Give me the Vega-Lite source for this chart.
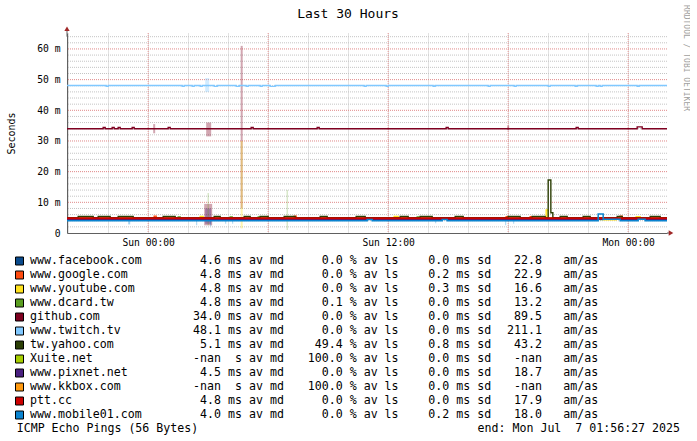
{
 "$schema": "https://vega.github.io/schema/vega-lite/v6.json",
 "background": "white",
 "padding": {"left": 6, "top": 5, "right": 0, "bottom": 0},
 "config": {"font": "DejaVu Sans Mono", "view": {"stroke": null},
   "axisY": {"labelOverlap": false, "labelFont": "DejaVu Sans Mono", "labelFontSize": 9.7, "labelColor": "black", "labelPadding": 7, "ticks": false, "grid": false, "domainColor": "#606060",
     "titleFont": "DejaVu Sans Mono", "titleFontSize": 10, "titleFontWeight": "normal", "titleColor": "black", "titlePadding": 20}},
 "spacing": 7,
 "datasets": {
  "lines": [
   {"s":"www.facebook.com","t":"2025-07-05T19:56:27Z","v":4.6},
   {"s":"www.facebook.com","t":"2025-07-07T01:56:27Z","v":4.6},
   {"s":"www.google.com","t":"2025-07-05T19:56:27Z","v":4.8},
   {"s":"www.google.com","t":"2025-07-06T00:18:00Z","v":5.5},
   {"s":"www.google.com","t":"2025-07-06T00:24:00Z","v":4.8},
   {"s":"www.google.com","t":"2025-07-06T07:18:00Z","v":5.5},
   {"s":"www.google.com","t":"2025-07-06T07:24:00Z","v":4.8},
   {"s":"www.google.com","t":"2025-07-06T17:54:00Z","v":5.3},
   {"s":"www.google.com","t":"2025-07-06T18:00:00Z","v":4.8},
   {"s":"www.google.com","t":"2025-07-06T19:06:00Z","v":5.3},
   {"s":"www.google.com","t":"2025-07-06T19:18:00Z","v":4.8},
   {"s":"www.google.com","t":"2025-07-06T23:36:00Z","v":5.5},
   {"s":"www.google.com","t":"2025-07-06T23:42:00Z","v":4.8},
   {"s":"www.google.com","t":"2025-07-07T01:56:27Z","v":4.8},
   {"s":"www.youtube.com","t":"2025-07-05T19:56:27Z","v":4.8},
   {"s":"www.youtube.com","t":"2025-07-05T21:12:00Z","v":4.2},
   {"s":"www.youtube.com","t":"2025-07-05T21:21:00Z","v":4.8},
   {"s":"www.youtube.com","t":"2025-07-06T02:36:00Z","v":5.4},
   {"s":"www.youtube.com","t":"2025-07-06T02:45:00Z","v":4.8},
   {"s":"www.youtube.com","t":"2025-07-06T12:18:00Z","v":5.4},
   {"s":"www.youtube.com","t":"2025-07-06T12:30:00Z","v":4.8},
   {"s":"www.youtube.com","t":"2025-07-06T19:54:00Z","v":7.5},
   {"s":"www.youtube.com","t":"2025-07-06T20:00:00Z","v":4.8},
   {"s":"www.youtube.com","t":"2025-07-06T22:48:00Z","v":4.3},
   {"s":"www.youtube.com","t":"2025-07-06T23:24:00Z","v":4.8},
   {"s":"www.youtube.com","t":"2025-07-07T00:24:00Z","v":5.3},
   {"s":"www.youtube.com","t":"2025-07-07T00:36:00Z","v":4.8},
   {"s":"www.youtube.com","t":"2025-07-07T01:56:27Z","v":4.8},
   {"s":"www.dcard.tw","t":"2025-07-05T19:56:27Z","v":4.8},
   {"s":"www.dcard.tw","t":"2025-07-06T01:30:00Z","v":5.2},
   {"s":"www.dcard.tw","t":"2025-07-06T01:36:00Z","v":4.8},
   {"s":"www.dcard.tw","t":"2025-07-06T04:06:00Z","v":5.2},
   {"s":"www.dcard.tw","t":"2025-07-06T04:12:00Z","v":4.8},
   {"s":"www.dcard.tw","t":"2025-07-06T05:30:00Z","v":5.2},
   {"s":"www.dcard.tw","t":"2025-07-06T05:36:00Z","v":4.8},
   {"s":"www.dcard.tw","t":"2025-07-06T13:27:00Z","v":5.2},
   {"s":"www.dcard.tw","t":"2025-07-06T13:33:00Z","v":4.8},
   {"s":"www.dcard.tw","t":"2025-07-06T22:36:00Z","v":4.4},
   {"s":"www.dcard.tw","t":"2025-07-06T22:45:00Z","v":4.8},
   {"s":"www.dcard.tw","t":"2025-07-07T01:56:27Z","v":4.8},
   {"s":"github.com","t":"2025-07-05T19:56:27Z","v":34.0},
   {"s":"github.com","t":"2025-07-05T21:45:00Z","v":34.4},
   {"s":"github.com","t":"2025-07-05T21:51:00Z","v":34.0},
   {"s":"github.com","t":"2025-07-05T22:12:00Z","v":34.4},
   {"s":"github.com","t":"2025-07-05T22:18:00Z","v":34.0},
   {"s":"github.com","t":"2025-07-05T22:30:00Z","v":34.4},
   {"s":"github.com","t":"2025-07-05T22:36:00Z","v":34.0},
   {"s":"github.com","t":"2025-07-05T23:12:00Z","v":34.4},
   {"s":"github.com","t":"2025-07-05T23:18:00Z","v":34.0},
   {"s":"github.com","t":"2025-07-06T01:00:00Z","v":34.4},
   {"s":"github.com","t":"2025-07-06T01:06:00Z","v":34.0},
   {"s":"github.com","t":"2025-07-06T05:09:00Z","v":34.4},
   {"s":"github.com","t":"2025-07-06T05:15:00Z","v":34.0},
   {"s":"github.com","t":"2025-07-06T08:27:00Z","v":34.4},
   {"s":"github.com","t":"2025-07-06T08:33:00Z","v":34.0},
   {"s":"github.com","t":"2025-07-06T14:54:00Z","v":34.4},
   {"s":"github.com","t":"2025-07-06T15:00:00Z","v":34.0},
   {"s":"github.com","t":"2025-07-06T21:24:00Z","v":34.4},
   {"s":"github.com","t":"2025-07-06T21:30:00Z","v":34.0},
   {"s":"github.com","t":"2025-07-07T00:27:00Z","v":34.6},
   {"s":"github.com","t":"2025-07-07T00:42:00Z","v":34.0},
   {"s":"github.com","t":"2025-07-07T01:56:27Z","v":34.0},
   {"s":"www.twitch.tv","t":"2025-07-05T19:56:27Z","v":48.1},
   {"s":"www.twitch.tv","t":"2025-07-05T21:54:00Z","v":47.8},
   {"s":"www.twitch.tv","t":"2025-07-05T22:00:00Z","v":48.1},
   {"s":"www.twitch.tv","t":"2025-07-06T01:42:00Z","v":47.8},
   {"s":"www.twitch.tv","t":"2025-07-06T01:48:00Z","v":48.1},
   {"s":"www.twitch.tv","t":"2025-07-06T02:12:00Z","v":47.8},
   {"s":"www.twitch.tv","t":"2025-07-06T02:18:00Z","v":48.1},
   {"s":"www.twitch.tv","t":"2025-07-06T02:36:00Z","v":47.8},
   {"s":"www.twitch.tv","t":"2025-07-06T02:42:00Z","v":48.1},
   {"s":"www.twitch.tv","t":"2025-07-06T03:18:00Z","v":47.8},
   {"s":"www.twitch.tv","t":"2025-07-06T03:27:00Z","v":48.1},
   {"s":"www.twitch.tv","t":"2025-07-06T04:24:00Z","v":47.8},
   {"s":"www.twitch.tv","t":"2025-07-06T04:33:00Z","v":48.1},
   {"s":"www.twitch.tv","t":"2025-07-06T04:54:00Z","v":47.8},
   {"s":"www.twitch.tv","t":"2025-07-06T05:00:00Z","v":48.1},
   {"s":"www.twitch.tv","t":"2025-07-06T05:36:00Z","v":47.8},
   {"s":"www.twitch.tv","t":"2025-07-06T05:42:00Z","v":48.1},
   {"s":"www.twitch.tv","t":"2025-07-06T06:06:00Z","v":47.8},
   {"s":"www.twitch.tv","t":"2025-07-06T06:21:00Z","v":48.1},
   {"s":"www.twitch.tv","t":"2025-07-06T10:48:00Z","v":47.8},
   {"s":"www.twitch.tv","t":"2025-07-06T10:54:00Z","v":48.1},
   {"s":"www.twitch.tv","t":"2025-07-06T11:54:00Z","v":47.8},
   {"s":"www.twitch.tv","t":"2025-07-06T12:00:00Z","v":48.1},
   {"s":"www.twitch.tv","t":"2025-07-06T14:15:00Z","v":47.8},
   {"s":"www.twitch.tv","t":"2025-07-06T14:21:00Z","v":48.1},
   {"s":"www.twitch.tv","t":"2025-07-06T17:00:00Z","v":47.8},
   {"s":"www.twitch.tv","t":"2025-07-06T17:06:00Z","v":48.1},
   {"s":"www.twitch.tv","t":"2025-07-06T18:18:00Z","v":47.8},
   {"s":"www.twitch.tv","t":"2025-07-06T18:24:00Z","v":48.1},
   {"s":"www.twitch.tv","t":"2025-07-06T20:00:00Z","v":47.8},
   {"s":"www.twitch.tv","t":"2025-07-06T20:06:00Z","v":48.1},
   {"s":"www.twitch.tv","t":"2025-07-06T21:21:00Z","v":47.8},
   {"s":"www.twitch.tv","t":"2025-07-06T21:27:00Z","v":48.1},
   {"s":"www.twitch.tv","t":"2025-07-06T22:24:00Z","v":47.8},
   {"s":"www.twitch.tv","t":"2025-07-06T22:30:00Z","v":48.1},
   {"s":"www.twitch.tv","t":"2025-07-06T22:36:00Z","v":47.8},
   {"s":"www.twitch.tv","t":"2025-07-06T22:42:00Z","v":48.1},
   {"s":"www.twitch.tv","t":"2025-07-07T00:27:00Z","v":47.8},
   {"s":"www.twitch.tv","t":"2025-07-07T00:33:00Z","v":48.1},
   {"s":"www.twitch.tv","t":"2025-07-07T01:56:27Z","v":48.1},
   {"s":"tw.yahoo.com","t":"2025-07-05T19:56:27Z","v":5.0},
   {"s":"tw.yahoo.com","t":"2025-07-05T20:30:00Z","v":5.4},
   {"s":"tw.yahoo.com","t":"2025-07-05T21:15:00Z","v":5.0},
   {"s":"tw.yahoo.com","t":"2025-07-05T21:30:00Z","v":5.4},
   {"s":"tw.yahoo.com","t":"2025-07-05T22:06:00Z","v":5.0},
   {"s":"tw.yahoo.com","t":"2025-07-05T22:30:00Z","v":5.4},
   {"s":"tw.yahoo.com","t":"2025-07-05T23:15:00Z","v":5.0},
   {"s":"tw.yahoo.com","t":"2025-07-06T00:45:00Z","v":5.4},
   {"s":"tw.yahoo.com","t":"2025-07-06T01:21:00Z","v":5.0},
   {"s":"tw.yahoo.com","t":"2025-07-06T03:18:00Z","v":5.4},
   {"s":"tw.yahoo.com","t":"2025-07-06T03:36:00Z","v":5.0},
   {"s":"tw.yahoo.com","t":"2025-07-06T04:48:00Z","v":5.4},
   {"s":"tw.yahoo.com","t":"2025-07-06T05:06:00Z","v":5.0},
   {"s":"tw.yahoo.com","t":"2025-07-06T05:36:00Z","v":5.4},
   {"s":"tw.yahoo.com","t":"2025-07-06T06:00:00Z","v":5.0},
   {"s":"tw.yahoo.com","t":"2025-07-06T06:48:00Z","v":5.4},
   {"s":"tw.yahoo.com","t":"2025-07-06T07:21:00Z","v":5.0},
   {"s":"tw.yahoo.com","t":"2025-07-06T08:36:00Z","v":5.4},
   {"s":"tw.yahoo.com","t":"2025-07-06T08:57:00Z","v":5.0},
   {"s":"tw.yahoo.com","t":"2025-07-06T10:24:00Z","v":5.4},
   {"s":"tw.yahoo.com","t":"2025-07-06T10:51:00Z","v":5.0},
   {"s":"tw.yahoo.com","t":"2025-07-06T12:36:00Z","v":5.4},
   {"s":"tw.yahoo.com","t":"2025-07-06T13:00:00Z","v":5.0},
   {"s":"tw.yahoo.com","t":"2025-07-06T13:36:00Z","v":5.4},
   {"s":"tw.yahoo.com","t":"2025-07-06T14:12:00Z","v":5.0},
   {"s":"tw.yahoo.com","t":"2025-07-06T15:21:00Z","v":5.4},
   {"s":"tw.yahoo.com","t":"2025-07-06T15:45:00Z","v":5.0},
   {"s":"tw.yahoo.com","t":"2025-07-06T18:00:00Z","v":5.4},
   {"s":"tw.yahoo.com","t":"2025-07-06T18:36:00Z","v":5.0},
   {"s":"tw.yahoo.com","t":"2025-07-06T19:12:00Z","v":5.4},
   {"s":"tw.yahoo.com","t":"2025-07-06T19:51:00Z","v":5.0},
   {"s":"tw.yahoo.com","t":"2025-07-06T20:00:00Z","v":17.3},
   {"s":"tw.yahoo.com","t":"2025-07-06T20:08:00Z","v":6.6},
   {"s":"tw.yahoo.com","t":"2025-07-06T20:14:00Z","v":5.0},
   {"s":"tw.yahoo.com","t":"2025-07-06T20:36:00Z","v":5.4},
   {"s":"tw.yahoo.com","t":"2025-07-06T20:57:00Z","v":5.0},
   {"s":"tw.yahoo.com","t":"2025-07-06T21:45:00Z","v":5.4},
   {"s":"tw.yahoo.com","t":"2025-07-06T22:06:00Z","v":5.0},
   {"s":"tw.yahoo.com","t":"2025-07-06T23:27:00Z","v":5.4},
   {"s":"tw.yahoo.com","t":"2025-07-06T23:42:00Z","v":5.0},
   {"s":"tw.yahoo.com","t":"2025-07-07T01:06:00Z","v":5.4},
   {"s":"tw.yahoo.com","t":"2025-07-07T01:36:00Z","v":5.0},
   {"s":"tw.yahoo.com","t":"2025-07-07T01:56:27Z","v":5.0},
   {"s":"www.pixnet.net","t":"2025-07-05T19:56:27Z","v":4.5},
   {"s":"www.pixnet.net","t":"2025-07-07T01:56:27Z","v":4.5},
   {"s":"ptt.cc","t":"2025-07-05T19:56:27Z","v":4.8},
   {"s":"ptt.cc","t":"2025-07-07T01:56:27Z","v":4.8},
   {"s":"www.mobile01.com","t":"2025-07-05T19:56:27Z","v":4.0},
   {"s":"www.mobile01.com","t":"2025-07-06T10:57:00Z","v":4.4},
   {"s":"www.mobile01.com","t":"2025-07-06T11:12:00Z","v":4.0},
   {"s":"www.mobile01.com","t":"2025-07-06T14:42:00Z","v":4.4},
   {"s":"www.mobile01.com","t":"2025-07-06T14:57:00Z","v":4.0},
   {"s":"www.mobile01.com","t":"2025-07-06T22:30:00Z","v":6.2},
   {"s":"www.mobile01.com","t":"2025-07-06T22:45:00Z","v":4.5},
   {"s":"www.mobile01.com","t":"2025-07-06T23:36:00Z","v":4.0},
   {"s":"www.mobile01.com","t":"2025-07-07T00:30:00Z","v":4.5},
   {"s":"www.mobile01.com","t":"2025-07-07T00:51:00Z","v":4.0},
   {"s":"www.mobile01.com","t":"2025-07-07T01:56:27Z","v":4.0}
  ],
  "smoke": [
   {"s":"github.com","t1":"2025-07-06T04:37:30Z","t2":"2025-07-06T04:43:30Z","lo":8,"hi":61},
   {"s":"www.youtube.com","t1":"2025-07-06T04:37:30Z","t2":"2025-07-06T04:43:30Z","lo":1.5,"hi":30},
   {"s":"github.com","t1":"2025-07-06T02:48:00Z","t2":"2025-07-06T03:12:00Z","lo":2.5,"hi":9.5},
   {"s":"www.pixnet.net","t1":"2025-07-06T02:51:00Z","t2":"2025-07-06T03:09:00Z","lo":3,"hi":8},
   {"s":"github.com","t1":"2025-07-06T02:54:00Z","t2":"2025-07-06T03:09:00Z","lo":31.5,"hi":36},
   {"s":"github.com","t1":"2025-07-06T00:15:00Z","t2":"2025-07-06T00:21:00Z","lo":32.5,"hi":35.5},
   {"s":"github.com","t1":"2025-07-06T17:57:00Z","t2":"2025-07-06T18:03:00Z","lo":33.5,"hi":35},
   {"s":"www.twitch.tv","t1":"2025-07-06T02:51:00Z","t2":"2025-07-06T03:03:00Z","lo":46,"hi":50.5},
   {"s":"www.dcard.tw","t1":"2025-07-06T02:58:30Z","t2":"2025-07-06T03:01:30Z","lo":2.5,"hi":13},
   {"s":"www.dcard.tw","t1":"2025-07-06T06:55:30Z","t2":"2025-07-06T06:58:30Z","lo":1,"hi":14},
   {"s":"www.mobile01.com","t1":"2025-07-05T23:00:00Z","t2":"2025-07-05T23:06:00Z","lo":2.8,"hi":4.5},
   {"s":"www.mobile01.com","t1":"2025-07-06T02:24:00Z","t2":"2025-07-06T02:27:00Z","lo":2.5,"hi":4.2},
   {"s":"www.mobile01.com","t1":"2025-07-06T03:06:00Z","t2":"2025-07-06T03:09:00Z","lo":2.2,"hi":4},
   {"s":"www.mobile01.com","t1":"2025-07-06T03:51:00Z","t2":"2025-07-06T03:54:00Z","lo":3,"hi":4.5},
   {"s":"www.mobile01.com","t1":"2025-07-06T04:12:00Z","t2":"2025-07-06T04:15:00Z","lo":3,"hi":4.5},
   {"s":"www.mobile01.com","t1":"2025-07-06T14:21:00Z","t2":"2025-07-06T14:24:00Z","lo":3.2,"hi":4},
   {"s":"www.mobile01.com","t1":"2025-07-06T17:51:00Z","t2":"2025-07-06T17:54:00Z","lo":2.5,"hi":4.1},
   {"s":"www.mobile01.com","t1":"2025-07-06T18:15:00Z","t2":"2025-07-06T18:18:00Z","lo":3,"hi":4.1}
  ],
  "vgrid": [
   {"t": 1751760000000}, {"t": 1751781600000}, {"t": 1751803200000}, {"t": 1751824800000}, {"t": 1751846400000}
  ],
  "hgrid": [
   {"v": 10}, {"v": 20}, {"v": 30}, {"v": 40}, {"v": 50}, {"v": 60}
  ],
  "hminor": [
   {"v": 2}, {"v": 4}, {"v": 6}, {"v": 8}, {"v": 12}, {"v": 14}, {"v": 16}, {"v": 18},
   {"v": 22}, {"v": 24}, {"v": 26}, {"v": 28}, {"v": 32}, {"v": 34}, {"v": 36}, {"v": 38},
   {"v": 42}, {"v": 44}, {"v": 46}, {"v": 48}, {"v": 52}, {"v": 54}, {"v": 56}, {"v": 58},
   {"v": 62}, {"v": 64}
  ],
  "legend": [
   {"r":0,"name":"www.facebook.com","avg":"4.6","unit":"ms","loss":"0.0","sd":"0.0","amas":"22.8"},
   {"r":1,"name":"www.google.com","avg":"4.8","unit":"ms","loss":"0.0","sd":"0.2","amas":"22.9"},
   {"r":2,"name":"www.youtube.com","avg":"4.8","unit":"ms","loss":"0.0","sd":"0.3","amas":"16.6"},
   {"r":3,"name":"www.dcard.tw","avg":"4.8","unit":"ms","loss":"0.1","sd":"0.0","amas":"13.2"},
   {"r":4,"name":"github.com","avg":"34.0","unit":"ms","loss":"0.0","sd":"0.0","amas":"89.5"},
   {"r":5,"name":"www.twitch.tv","avg":"48.1","unit":"ms","loss":"0.0","sd":"0.0","amas":"211.1"},
   {"r":6,"name":"tw.yahoo.com","avg":"5.1","unit":"ms","loss":"49.4","sd":"0.8","amas":"43.2"},
   {"r":7,"name":"Xuite.net","avg":"-nan","unit":"s","loss":"100.0","sd":"0.0","amas":"-nan"},
   {"r":8,"name":"www.pixnet.net","avg":"4.5","unit":"ms","loss":"0.0","sd":"0.0","amas":"18.7"},
   {"r":9,"name":"www.kkbox.com","avg":"-nan","unit":"s","loss":"100.0","sd":"0.0","amas":"-nan"},
   {"r":10,"name":"ptt.cc","avg":"4.8","unit":"ms","loss":"0.0","sd":"0.0","amas":"17.9"},
   {"r":11,"name":"www.mobile01.com","avg":"4.0","unit":"ms","loss":"0.0","sd":"0.2","amas":"18.0"}
  ],
  "foot": [
   {"r":12,"left":"ICMP Echo Pings (56 Bytes)","right":"end: Mon Jul \u00a07 01:56:27 2025"}
  ]
 },
 "vconcat": [
  {
   "width": 600,
   "height": 200,
   "layer": [
    {
     "data": {"name": "hminor"},
     "mark": {"type": "rule", "color": "#c4c4c4", "strokeDash": [1, 1]},
     "encoding": {
      "y": {"field": "v", "type": "quantitative", "scale": {"domain": [0, 65.2], "nice": false, "zero": false},
        "axis": {"title": "Seconds", "values": [0,10,20,30,40,50,60], "labelOverlap": false, "labelExpr": "datum.value === 0 ? '0' : datum.value + ' m'"}}
     }
    },
    {
     "data": {"name": "vgrid"},
     "mark": {"type": "rule", "color": "#e89898", "strokeDash": [1, 1]},
     "encoding": {
      "x": {"field": "t", "type": "temporal", "scale": {"type": "utc", "domain": [1751745387000, 1751853387000], "nice": false},
        "axis": {"title": null,
          "values": [1751745600000,1751749200000,1751752800000,1751756400000,1751760000000,1751763600000,1751767200000,1751770800000,1751774400000,1751778000000,1751781600000,1751785200000,1751788800000,1751792400000,1751796000000,1751799600000,1751803200000,1751806800000,1751810400000,1751814000000,1751817600000,1751821200000,1751824800000,1751828400000,1751832000000,1751835600000,1751839200000,1751842800000,1751846400000,1751850000000],
          "grid": true, "gridColor": "#c4c4c4", "gridDash": [1, 1], "ticks": false,
          "labelExpr": "utchours(datum.value) % 12 === 0 ? utcFormat(datum.value, '%a %H:%M') : ''",
          "labelOverlap": false, "labelFlush": false, "labelFont": "DejaVu Sans Mono", "labelFontSize": 9.7, "labelColor": "black", "labelPadding": 4,
          "domainColor": "#606060"}}
     }
    },
    {
     "data": {"name": "hgrid"},
     "mark": {"type": "rule", "color": "#e08888", "strokeDash": [1, 1]},
     "encoding": {
      "y": {"field": "v", "type": "quantitative", "scale": {"domain": [0, 65.2], "nice": false, "zero": false},
        "axis": {"title": "Seconds", "values": [0,10,20,30,40,50,60], "labelOverlap": false, "labelExpr": "datum.value === 0 ? '0' : datum.value + ' m'"}}
     }
    },
    {
     "data": {"name": "smoke"},
     "mark": {"type": "rect", "opacity": 0.35},
     "encoding": {
      "x": {"field": "t1", "type": "temporal", "scale": {"type": "utc", "domain": [1751745387000, 1751853387000], "nice": false}},
      "x2": {"field": "t2"},
      "y": {"field": "lo", "type": "quantitative", "scale": {"domain": [0, 65.2], "nice": false, "zero": false},
        "axis": {"title": "Seconds", "values": [0,10,20,30,40,50,60], "labelOverlap": false, "labelExpr": "datum.value === 0 ? '0' : datum.value + ' m'"}},
      "y2": {"field": "hi"},
      "color": {"field": "s", "type": "nominal", "legend": null,
        "scale": {"domain": ["www.facebook.com","www.google.com","www.youtube.com","www.dcard.tw","github.com","www.twitch.tv","tw.yahoo.com","Xuite.net","www.pixnet.net","www.kkbox.com","ptt.cc","www.mobile01.com"],
                  "range": ["#0a4a8c","#ff4c10","#ffe21e","#5a9e20","#7e0020","#80c8ff","#2c3f05","#a6ce00","#4a2080","#ff9a10","#cc0000","#0a84d0"]}}
     }
    },
    {
     "data": {"name": "lines"},
     "transform": [{"filter": "datum.s !== 'ptt.cc' && datum.s !== 'www.mobile01.com'"}],
     "mark": {"type": "line", "interpolate": "step-after", "strokeWidth": 1.4},
     "encoding": {
      "x": {"field": "t", "type": "temporal", "scale": {"type": "utc", "domain": [1751745387000, 1751853387000], "nice": false}},
      "y": {"field": "v", "type": "quantitative", "scale": {"domain": [0, 65.2], "nice": false, "zero": false},
        "axis": {"title": "Seconds", "values": [0,10,20,30,40,50,60], "labelOverlap": false, "labelExpr": "datum.value === 0 ? '0' : datum.value + ' m'"}},
      "color": {"field": "s", "type": "nominal", "legend": null}
     }
    },
    {
     "data": {"name": "lines"},
     "transform": [{"filter": "datum.s === 'ptt.cc'"}],
     "mark": {"type": "line", "interpolate": "step-after", "strokeWidth": 2},
     "encoding": {
      "x": {"field": "t", "type": "temporal", "scale": {"type": "utc", "domain": [1751745387000, 1751853387000], "nice": false}},
      "y": {"field": "v", "type": "quantitative", "scale": {"domain": [0, 65.2], "nice": false, "zero": false},
        "axis": {"title": "Seconds", "values": [0,10,20,30,40,50,60], "labelOverlap": false, "labelExpr": "datum.value === 0 ? '0' : datum.value + ' m'"}},
      "color": {"field": "s", "type": "nominal", "legend": null}
     }
    },
    {
     "data": {"name": "lines"},
     "transform": [{"filter": "datum.s === 'www.mobile01.com'"}],
     "mark": {"type": "line", "interpolate": "step-after", "strokeWidth": 1.5},
     "encoding": {
      "x": {"field": "t", "type": "temporal", "scale": {"type": "utc", "domain": [1751745387000, 1751853387000], "nice": false}},
      "y": {"field": "v", "type": "quantitative", "scale": {"domain": [0, 65.2], "nice": false, "zero": false},
        "axis": {"title": "Seconds", "values": [0,10,20,30,40,50,60], "labelOverlap": false, "labelExpr": "datum.value === 0 ? '0' : datum.value + ' m'"}},
      "color": {"field": "s", "type": "nominal", "legend": null}
     }
    },
    {
     "data": {"values": [{}]},
     "mark": {"type": "rule", "color": "#606060"},
     "encoding": {
      "x": {"datum": 1751745387000, "type": "temporal", "scale": {"type": "utc", "domain": [1751745387000, 1751853387000], "nice": false}},
      "y": {"datum": 64, "type": "quantitative", "scale": {"domain": [0, 65.2], "nice": false, "zero": false},
        "axis": {"title": "Seconds", "values": [0,10,20,30,40,50,60], "labelOverlap": false, "labelExpr": "datum.value === 0 ? '0' : datum.value + ' m'"}},
      "y2": {"datum": 66.5}
     }
    },
    {
     "data": {"values": [{}]},
     "mark": {"type": "rule", "color": "#606060"},
     "encoding": {
      "x": {"datum": 1751853387000, "type": "temporal", "scale": {"type": "utc", "domain": [1751745387000, 1751853387000], "nice": false}},
      "x2": {"datum": 1751854107000},
      "y": {"datum": 0, "type": "quantitative", "scale": {"domain": [0, 65.2], "nice": false, "zero": false},
        "axis": {"title": "Seconds", "values": [0,10,20,30,40,50,60], "labelOverlap": false, "labelExpr": "datum.value === 0 ? '0' : datum.value + ' m'"}}
     }
    },
    {
     "data": {"values": [{}]},
     "mark": {"type": "point", "shape": "triangle-up", "filled": true, "size": 28, "color": "#a02828", "opacity": 1},
     "encoding": {
      "x": {"datum": 1751745387000, "type": "temporal", "scale": {"type": "utc", "domain": [1751745387000, 1751853387000], "nice": false}},
      "y": {"datum": 66.6, "type": "quantitative", "scale": {"domain": [0, 65.2], "nice": false, "zero": false},
        "axis": {"title": "Seconds", "values": [0,10,20,30,40,50,60], "labelOverlap": false, "labelExpr": "datum.value === 0 ? '0' : datum.value + ' m'"}}
     }
    },
    {
     "data": {"values": [{}]},
     "mark": {"type": "point", "shape": "triangle-right", "filled": true, "size": 28, "color": "#a02828", "opacity": 1},
     "encoding": {
      "x": {"datum": 1751854107000, "type": "temporal", "scale": {"type": "utc", "domain": [1751745387000, 1751853387000], "nice": false}},
      "y": {"datum": 0, "type": "quantitative", "scale": {"domain": [0, 65.2], "nice": false, "zero": false},
        "axis": {"title": "Seconds", "values": [0,10,20,30,40,50,60], "labelOverlap": false, "labelExpr": "datum.value === 0 ? '0' : datum.value + ' m'"}}
     }
    },
    {
     "data": {"values": [{}]},
     "mark": {"type": "text", "text": "RRDTOOL / TOBI OETIKER", "angle": 90, "align": "left", "baseline": "middle", "fontSize": 8, "color": "#a0a0a0"},
     "encoding": {
      "x": {"datum": 1751856807000, "type": "temporal", "scale": {"type": "utc", "domain": [1751745387000, 1751853387000], "nice": false}},
      "y": {"datum": 74.3, "type": "quantitative", "scale": {"domain": [0, 65.2], "nice": false, "zero": false},
        "axis": {"title": "Seconds", "values": [0,10,20,30,40,50,60], "labelOverlap": false, "labelExpr": "datum.value === 0 ? '0' : datum.value + ' m'"}}
     }
    },
    {
     "data": {"values": [{}]},
     "mark": {"type": "text", "text": "Last 30 Hours", "align": "center", "baseline": "middle", "fontSize": 13, "color": "black"},
     "encoding": {
      "x": {"datum": 1751795967000, "type": "temporal", "scale": {"type": "utc", "domain": [1751745387000, 1751853387000], "nice": false}},
      "y": {"datum": 71.4, "type": "quantitative", "scale": {"domain": [0, 65.2], "nice": false, "zero": false},
        "axis": {"title": "Seconds", "values": [0,10,20,30,40,50,60], "labelOverlap": false, "labelExpr": "datum.value === 0 ? '0' : datum.value + ' m'"}}
     }
    }
   ]
  },
  {
   "width": 600,
   "height": 182,
   "data": {"name": "legend"},
   "encoding": {
    "y": {"field": "r", "type": "quantitative", "scale": {"domain": [-0.5, 12.5], "reverse": true, "nice": false, "zero": false}, "axis": null}
   },
   "layer": [
    {
     "mark": {"type": "point", "shape": "square", "filled": true, "size": 64, "stroke": "black", "strokeWidth": 1, "opacity": 1},
     "encoding": {
      "x": {"datum": -47.5, "type": "quantitative", "scale": {"domain": [0, 600], "nice": false, "zero": false}, "axis": null},
      "fill": {"field": "name", "type": "nominal", "legend": null,
        "scale": {"domain": ["www.facebook.com","www.google.com","www.youtube.com","www.dcard.tw","github.com","www.twitch.tv","tw.yahoo.com","Xuite.net","www.pixnet.net","www.kkbox.com","ptt.cc","www.mobile01.com"],
                  "range": ["#0a4a8c","#ff4c10","#ffe21e","#5a9e20","#7e0020","#80c8ff","#2c3f05","#a6ce00","#4a2080","#ff9a10","#cc0000","#0a84d0"]}}
     }
    },
    {
     "mark": {"type": "text", "align": "left", "baseline": "middle", "fontSize": 11.6, "color": "black"},
     "encoding": {"x": {"datum": -37, "type": "quantitative", "scale": {"domain": [0, 600], "nice": false, "zero": false}, "axis": null}, "text": {"field": "name"}}
    },
    {
     "mark": {"type": "text", "align": "right", "baseline": "middle", "fontSize": 11.6, "color": "black"},
     "encoding": {"x": {"datum": 154, "type": "quantitative", "scale": {"domain": [0, 600], "nice": false, "zero": false}, "axis": null}, "text": {"field": "avg"}}
    },
    {
     "mark": {"type": "text", "align": "right", "baseline": "middle", "fontSize": 11.6, "color": "black"},
     "encoding": {"x": {"datum": 175, "type": "quantitative", "scale": {"domain": [0, 600], "nice": false, "zero": false}, "axis": null}, "text": {"field": "unit"}}
    },
    {
     "mark": {"type": "text", "align": "left", "baseline": "middle", "fontSize": 11.6, "color": "black", "text": "av md"},
     "encoding": {"x": {"datum": 182, "type": "quantitative", "scale": {"domain": [0, 600], "nice": false, "zero": false}, "axis": null}}
    },
    {
     "mark": {"type": "text", "align": "right", "baseline": "middle", "fontSize": 11.6, "color": "black"},
     "encoding": {"x": {"datum": 275.7, "type": "quantitative", "scale": {"domain": [0, 600], "nice": false, "zero": false}, "axis": null}, "text": {"field": "loss"}}
    },
    {
     "mark": {"type": "text", "align": "left", "baseline": "middle", "fontSize": 11.6, "color": "black", "text": "% av ls"},
     "encoding": {"x": {"datum": 282.7, "type": "quantitative", "scale": {"domain": [0, 600], "nice": false, "zero": false}, "axis": null}}
    },
    {
     "mark": {"type": "text", "align": "right", "baseline": "middle", "fontSize": 11.6, "color": "black"},
     "encoding": {"x": {"datum": 382.3, "type": "quantitative", "scale": {"domain": [0, 600], "nice": false, "zero": false}, "axis": null}, "text": {"field": "sd"}}
    },
    {
     "mark": {"type": "text", "align": "left", "baseline": "middle", "fontSize": 11.6, "color": "black", "text": "ms sd"},
     "encoding": {"x": {"datum": 389.3, "type": "quantitative", "scale": {"domain": [0, 600], "nice": false, "zero": false}, "axis": null}}
    },
    {
     "mark": {"type": "text", "align": "right", "baseline": "middle", "fontSize": 11.6, "color": "black"},
     "encoding": {"x": {"datum": 475, "type": "quantitative", "scale": {"domain": [0, 600], "nice": false, "zero": false}, "axis": null}, "text": {"field": "amas"}}
    },
    {
     "mark": {"type": "text", "align": "left", "baseline": "middle", "fontSize": 11.6, "color": "black", "text": "am/as"},
     "encoding": {"x": {"datum": 496.3, "type": "quantitative", "scale": {"domain": [0, 600], "nice": false, "zero": false}, "axis": null}}
    },
    {
     "data": {"name": "foot"},
     "mark": {"type": "text", "align": "left", "baseline": "middle", "fontSize": 11.6, "color": "black"},
     "encoding": {"x": {"datum": -50.3, "type": "quantitative", "scale": {"domain": [0, 600], "nice": false, "zero": false}, "axis": null}, "text": {"field": "left"}}
    },
    {
     "data": {"name": "foot"},
     "mark": {"type": "text", "align": "right", "baseline": "middle", "fontSize": 11.6, "color": "black"},
     "encoding": {"x": {"datum": 613, "type": "quantitative", "scale": {"domain": [0, 600], "nice": false, "zero": false}, "axis": null}, "text": {"field": "right"}}
    }
   ]
  }
 ]
}
